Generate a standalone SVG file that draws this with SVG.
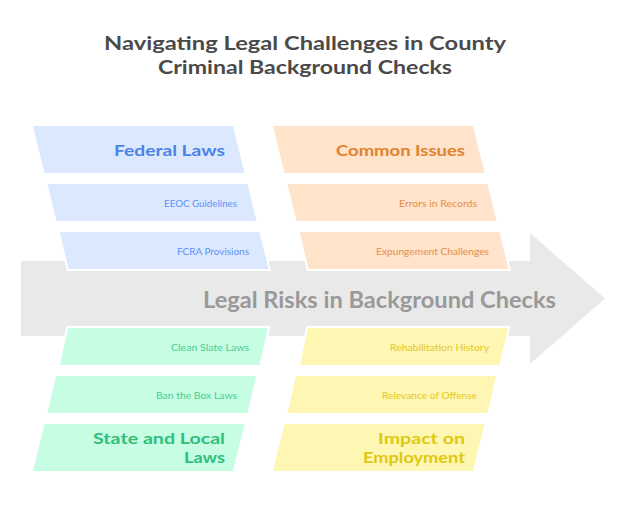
<svg xmlns="http://www.w3.org/2000/svg" width="626" height="511" viewBox="0 0 626 511">
<style>
text{font-family:"Lato","Noto Sans",sans-serif;}
.t{font-size:19px;font-weight:700;fill:#4a4a4a;text-anchor:middle}
.h{font-size:16px;font-weight:700;text-anchor:end}
.s{font-size:10px;text-anchor:end}
.c{font-size:22px;font-weight:700;fill:#999999;text-anchor:middle}
.blue polygon{fill:#dbe8fe}.blue text{fill:#5f92f5}.blue .h{fill:#4b83e8}
.orange polygon{fill:#ffe3cb}.orange text{fill:#e58f45}.orange .h{fill:#e0822e}
.green polygon{fill:#c6fde3}.green text{fill:#45cf92}.green .h{fill:#2fbf7c}
.yellow polygon{fill:#fef6b3}.yellow text{fill:#e3cb1e}.yellow .h{fill:#e0c80f}
.w{stroke:#fff;stroke-width:2}
</style>
<rect width="626" height="511" fill="#fff"/>
<g id="title">
<text class="t" x="305" y="50" textLength="402" lengthAdjust="spacingAndGlyphs">Navigating Legal Challenges in County</text>
<text class="t" x="305" y="74" textLength="294" lengthAdjust="spacingAndGlyphs">Criminal Background Checks</text>
</g>
<g id="spine">
<polygon points="21,261 530,261 530,233 605,298.500 530,364 530,336 21,336" fill="#e9e9e9"/>
<text class="c" x="379.500" y="307.500" textLength="353" lengthAdjust="spacingAndGlyphs">Legal Risks in Background Checks</text>
</g>
<g id="connectors"/>
<g id="federal-laws" class="blue"><polygon points="33,126 233,126 244.500,173 44.500,173"/><text class="h" x="225" y="155.500" textLength="111" lengthAdjust="spacingAndGlyphs">Federal Laws</text></g>
<g id="eeoc" class="blue"><polygon points="47.500,184 247.500,184 256.500,221 56.500,221"/><text class="s" x="237" y="207" textLength="73" lengthAdjust="spacingAndGlyphs">EEOC Guidelines</text></g>
<g id="fcra" class="blue"><polygon class="w" points="58.500,231 260.300,231 269.800,270 67.700,270"/><text class="s" x="249" y="255" textLength="72" lengthAdjust="spacingAndGlyphs">FCRA Provisions</text></g>
<g id="common-issues" class="orange"><polygon points="273,126 473,126 484.500,173 284.500,173"/><text class="h" x="465" y="155.500" textLength="129" lengthAdjust="spacingAndGlyphs">Common Issues</text></g>
<g id="errors" class="orange"><polygon points="287.500,184 487.500,184 496.500,221 296.500,221"/><text class="s" x="477" y="207" textLength="78" lengthAdjust="spacingAndGlyphs">Errors in Records</text></g>
<g id="expungement" class="orange"><polygon class="w" points="298.500,231 500.300,231 509.800,270 307.700,270"/><text class="s" x="489" y="255" textLength="113" lengthAdjust="spacingAndGlyphs">Expungement Challenges</text></g>
<g id="clean-slate" class="green"><polygon class="w" points="67.200,327 269.300,327 260.300,366 58.700,366"/><text class="s" x="249" y="351" textLength="78" lengthAdjust="spacingAndGlyphs">Clean Slate Laws</text></g>
<g id="ban-the-box" class="green"><polygon points="56,376 256,376 247.500,413 47.500,413"/><text class="s" x="237" y="399" textLength="81" lengthAdjust="spacingAndGlyphs">Ban the Box Laws</text></g>
<g id="state-local" class="green"><polygon points="44.500,424 244.500,424 233,471 33,471"/><text class="h" x="225" y="443.500" textLength="132" lengthAdjust="spacingAndGlyphs">State and Local</text><text class="h" x="225" y="462.500" textLength="41" lengthAdjust="spacingAndGlyphs">Laws</text></g>
<g id="rehabilitation" class="yellow"><polygon class="w" points="307.200,327 509.300,327 500.300,366 298.700,366"/><text class="s" x="489" y="351" textLength="99" lengthAdjust="spacingAndGlyphs">Rehabilitation History</text></g>
<g id="relevance" class="yellow"><polygon points="296,376 496,376 487.500,413 287.500,413"/><text class="s" x="477" y="399" textLength="95" lengthAdjust="spacingAndGlyphs">Relevance of Offense</text></g>
<g id="impact" class="yellow"><polygon points="284.500,424 484.500,424 473,471 273,471"/><text class="h" x="465" y="443.500" textLength="87" lengthAdjust="spacingAndGlyphs">Impact on</text><text class="h" x="465" y="462.500" textLength="102" lengthAdjust="spacingAndGlyphs">Employment</text></g>
</svg>
